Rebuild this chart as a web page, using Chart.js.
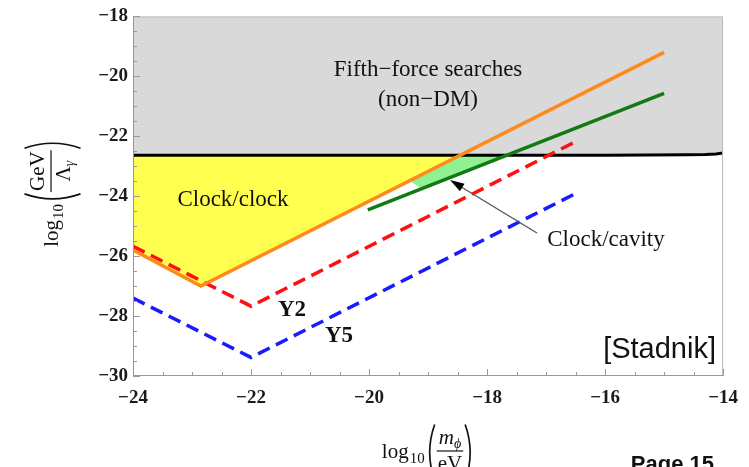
<!DOCTYPE html>
<html>
<head>
<meta charset="utf-8">
<script src="https://cdn.jsdelivr.net/npm/chart.js@4"></script>
<style>
  html, body { margin: 0; padding: 0; background: #fff; }
  #wrap { width: 749px; height: 467px; }
</style>
</head>
<body>
<div id="wrap"><canvas id="limits"></canvas></div>
<script>
// axis ranges / ticks
var xRange = [-24, -14];
var yRange = [-30, -18];
var tickStep = 2;
var minorStep = 0.5;

// fifth-force boundary (black line, grey above)
var fifthX = [-24, -20, -16, -14.6, -14.3, -14.12, -14];
var fifthY = [-22.63, -22.63, -22.63, -22.62, -22.61, -22.59, -22.56];

// clock/clock (orange) and its yellow region
var clockX = [-24, -22.85, -15];
var clockY = [-25.8, -27.0, -19.2];
var clockFillX = [-24, -22.85, -18.43];
var clockFillY = [-25.8, -27.0, -22.63];

// clock/cavity (green) and its light green region
var cavityX = [-20.02, -15];
var cavityY = [-24.46, -20.57];
var cavityFillX = [-19.3, -19.1, -17.66];
var cavityFillY = [-23.5, -23.76, -22.63];

// projections
var y2X = [-24, -22, -16.45];
var y2Y = [-25.67, -27.67, -22.13];
var y5X = [-24, -22, -16.45];
var y5Y = [-27.4, -29.38, -23.86];

var fillLevel = -22.63;

function pts(xs, ys) {
  return xs.map(function (x, i) { return { x: x, y: ys[i] }; });
}

var serif = '"Liberation Serif", "Times New Roman", serif';
var sans = '"Liberation Sans", Arial, sans-serif';

function fmt(v) {
  return (v < 0 ? '\u2212' : '') + Math.abs(v);
}

// draws log10( num / den ) centred at cx, "log" baseline at base (current transform)
function drawLogFrac(ctx, cx, base, num, den) {
  var big = '21px ' + serif, small = '15px ' + serif;
  ctx.font = big;
  var wLog = ctx.measureText('log').width;
  ctx.font = small;
  var w10 = ctx.measureText('10').width;
  function partsWidth(parts) {
    var w = 0;
    parts.forEach(function (p) { ctx.font = p.f; w += ctx.measureText(p.t).width; });
    return w;
  }
  var wn = partsWidth(num), wd = partsWidth(den);
  var fracW = Math.max(wn, wd) + 2;
  var parW = 11;
  var total = wLog + 1 + w10 + 1 + parW + fracW + parW;
  var x = cx - total / 2;
  var bar = base - 7;
  ctx.fillStyle = '#111';
  ctx.strokeStyle = '#111';
  ctx.textAlign = 'left';
  ctx.textBaseline = 'alphabetic';
  ctx.font = big;
  ctx.fillText('log', x, base);
  x += wLog + 1;
  ctx.font = small;
  ctx.fillText('10', x, base + 5);
  x += w10 + 1;
  function paren(px, left) {
    ctx.beginPath();
    ctx.lineWidth = 1.7;
    var mid = bar + 1.5, top = mid - 28, bot = mid + 28;
    if (left) {
      ctx.moveTo(px + 9, top);
      ctx.quadraticCurveTo(px - 1, mid, px + 9, bot);
    } else {
      ctx.moveTo(px + 2, top);
      ctx.quadraticCurveTo(px + 12, mid, px + 2, bot);
    }
    ctx.stroke();
  }
  paren(x, true);
  x += parW;
  function drawParts(parts, sx, by) {
    parts.forEach(function (p) {
      ctx.font = p.f;
      ctx.fillText(p.t, sx, by + (p.dy || 0));
      sx += ctx.measureText(p.t).width;
    });
  }
  drawParts(num, x + (fracW - wn) / 2, bar - 7);
  drawParts(den, x + (fracW - wd) / 2, bar + 19);
  ctx.beginPath();
  ctx.lineWidth = 1.2;
  ctx.moveTo(x, bar);
  ctx.lineTo(x + fracW, bar);
  ctx.stroke();
  x += fracW;
  paren(x, false);
}

var decorations = {
  id: 'decorations',
  afterDatasetsDraw: function (chart) {
    var ctx = chart.ctx;
    var a = chart.chartArea;
    var xs = chart.scales.x, ys = chart.scales.y;
    ctx.save();

    // frame
    ctx.lineWidth = 1;
    ctx.strokeStyle = '#bbb';
    ctx.beginPath();
    ctx.moveTo(a.left, a.top + 0.5);
    ctx.lineTo(a.right - 0.5, a.top + 0.5);
    ctx.lineTo(a.right - 0.5, a.bottom);
    ctx.stroke();
    ctx.strokeStyle = '#999';
    ctx.beginPath();
    ctx.moveTo(a.left + 0.5, a.top);
    ctx.lineTo(a.left + 0.5, a.bottom - 0.5);
    ctx.lineTo(a.right, a.bottom - 0.5);
    ctx.stroke();

    // inward ticks
    ctx.strokeStyle = '#999';
    ctx.beginPath();
    var v, p, len;
    for (v = xRange[0]; v <= xRange[1] + 1e-9; v += minorStep) {
      p = Math.round(xs.getPixelForValue(v)) + 0.5;
      len = (Math.abs(v % tickStep) < 1e-9) ? 7 : 4;
      ctx.moveTo(p, a.bottom);
      ctx.lineTo(p, a.bottom - len);
    }
    for (v = yRange[0]; v <= yRange[1] + 1e-9; v += minorStep) {
      p = Math.round(ys.getPixelForValue(v)) + 0.5;
      len = (Math.abs(v % tickStep) < 1e-9) ? 7 : 4;
      ctx.moveTo(a.left, p);
      ctx.lineTo(a.left + len, p);
    }
    ctx.stroke();

    // region labels
    ctx.fillStyle = '#111';
    ctx.textAlign = 'center';
    ctx.textBaseline = 'middle';
    ctx.font = '23px ' + serif;
    ctx.fillText('Fifth\u2212force searches', 428, 70);
    ctx.fillText('(non\u2212DM)', 428, 100);
    ctx.fillText('Clock/clock', 233, 200);
    ctx.fillText('Clock/cavity', 606, 240);
    ctx.font = 'bold 23px ' + serif;
    ctx.fillText('Y2', 292, 310);
    ctx.fillText('Y5', 339, 336);

    // arrow
    ctx.strokeStyle = '#555';
    ctx.lineWidth = 1.3;
    ctx.beginPath();
    ctx.moveTo(537, 233);
    ctx.lineTo(458, 185);
    ctx.stroke();
    var ang = Math.atan2(180 - 233, 450 - 537);
    ctx.fillStyle = '#000';
    ctx.beginPath();
    ctx.moveTo(450, 180);
    ctx.lineTo(450 - 15 * Math.cos(ang - 0.3), 180 - 15 * Math.sin(ang - 0.3));
    ctx.lineTo(450 - 15 * Math.cos(ang + 0.3), 180 - 15 * Math.sin(ang + 0.3));
    ctx.closePath();
    ctx.fill();

    // credit
    ctx.fillStyle = '#111';
    ctx.font = '29px ' + sans;
    ctx.textAlign = 'right';
    ctx.fillText('[Stadnik]', 716, 350);
    ctx.font = 'bold 22px ' + sans;
    ctx.textBaseline = 'alphabetic';
    ctx.fillText('Page 15', 714, 471);

    // axis titles
    drawLogFrac(ctx, 428, 458,
      [{ t: 'm', f: 'italic 21px ' + serif }, { t: '\u03d5', f: 'italic 14px ' + serif, dy: 4 }],
      [{ t: 'eV', f: '21px ' + serif }]);
    ctx.save();
    ctx.translate(58, 193);
    ctx.rotate(-Math.PI / 2);
    drawLogFrac(ctx, 0, 0,
      [{ t: 'GeV', f: '21px ' + serif }],
      [{ t: '\u039b', f: '21px ' + serif }, { t: '\u03b3', f: 'italic 14px ' + serif, dy: 4 }]);
    ctx.restore();

    ctx.restore();
  }
};

new Chart(document.getElementById('limits'), {
  type: 'scatter',
  data: {
    datasets: [
      { data: pts(clockX, clockY), showLine: true, borderColor: '#ff8a1c', borderWidth: 3.5, pointRadius: 0, fill: false },
      { data: pts(cavityX, cavityY), showLine: true, borderColor: '#137a13', borderWidth: 3.5, pointRadius: 0, fill: false },
      { data: pts(y2X, y2Y), showLine: true, borderColor: '#ff1010', borderWidth: 3.5, borderDash: [13, 7], pointRadius: 0, fill: false },
      { data: pts(y5X, y5Y), showLine: true, borderColor: '#1a1aff', borderWidth: 3.5, borderDash: [13, 7], pointRadius: 0, fill: false },
      { data: pts(fifthX, fifthY), showLine: true, borderColor: '#000', borderWidth: 3, pointRadius: 0, fill: 'end', backgroundColor: '#d9d9d9' },
      { data: pts(clockFillX, clockFillY), showLine: true, borderWidth: 0, borderColor: 'rgba(0,0,0,0)', pointRadius: 0, fill: { value: fillLevel }, backgroundColor: '#ffff50' },
      { data: pts(cavityFillX, cavityFillY), showLine: true, borderWidth: 0, borderColor: 'rgba(0,0,0,0)', pointRadius: 0, fill: { value: fillLevel }, backgroundColor: '#8ef192' }
    ]
  },
  options: {
    responsive: true,
    maintainAspectRatio: false,
    animation: false,
    layout: { padding: { top: 11, right: 25, left: 0, bottom: 0 } },
    plugins: { legend: { display: false }, tooltip: { enabled: false } },
    scales: {
      x: {
        type: 'linear', min: xRange[0], max: xRange[1],
        afterFit: function (s) { s.height = 91; },
        grid: { display: false, drawTicks: false },
        border: { display: false },
        ticks: { stepSize: tickStep, padding: 11, color: '#1a1a1a', font: { family: serif, size: 19, weight: 'bold' }, callback: fmt, maxRotation: 0 }
      },
      y: {
        type: 'linear', min: yRange[0], max: yRange[1],
        afterFit: function (s) { s.width = 133; },
        grid: { display: false, drawTicks: false },
        border: { display: false },
        ticks: { stepSize: tickStep, padding: 5, color: '#1a1a1a', font: { family: serif, size: 19, weight: 'bold' }, callback: fmt }
      }
    }
  },
  plugins: [decorations]
});
</script>
</body>
</html>
